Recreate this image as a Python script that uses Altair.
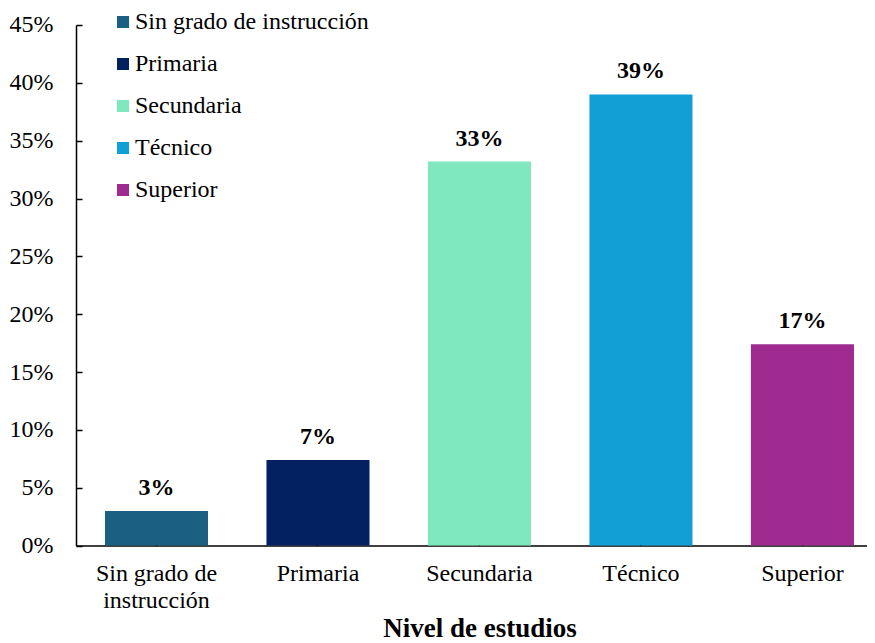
import altair as alt
import pandas as pd

categorias = ["Sin grado de instrucción", "Primaria", "Secundaria", "Técnico", "Superior"]
porcentajes = [0.030, 0.074, 0.332, 0.390, 0.174]
colores = ["#1B5F83", "#032160", "#80E8BE", "#129FD6", "#9F2B91"]
y_ticks = [0, 0.05, 0.10, 0.15, 0.20, 0.25, 0.30, 0.35, 0.40, 0.45]

df = pd.DataFrame({"nivel": categorias, "pct": porcentajes})

W = 791
H = 520.6
FONT = "Liberation Serif"
FS = 24

xscale = alt.Scale(domain=categorias, paddingInner=0.362, paddingOuter=0.13, align=0.69)
yscale = alt.Scale(domain=[0, 0.45], nice=False)

base = alt.Chart(df)

bars = base.mark_bar().encode(
    x=alt.X("nivel:N", sort=categorias, scale=xscale,
            axis=alt.Axis(title="Nivel de estudios", labelAngle=0, ticks=False,
                          labelPadding=16, labelFontSize=FS, labelFont=FONT,
                          labelColor="black", labelLineHeight=27,
                          labelExpr="datum.label == 'Sin grado de instrucción' ? ['Sin grado de', 'instrucción'] : datum.label",
                          titleFont=FONT, titleFontSize=27, titleFontWeight="bold",
                          titleColor="black", titleX=403.5, titleY=91,
                          titleBaseline="alphabetic", titleAnchor="middle", titleAlign="center",
                          domainColor="black", domainWidth=1.5, grid=False)),
    y=alt.Y("pct:Q", scale=yscale,
            axis=alt.Axis(title=None, values=y_ticks, format=".0%", ticks=False,
                          labelPadding=23, labelFontSize=FS, labelFont=FONT,
                          labelColor="black", domainColor="black", domainWidth=1.5,
                          grid=False)),
    color=alt.Color("nivel:N", sort=categorias,
                    scale=alt.Scale(domain=categorias, range=colores),
                    legend=alt.Legend(title=None, orient="none", legendX=35, legendY=-15,
                                      symbolType="square", symbolSize=144,
                                      symbolStrokeWidth=0, labelFont=FONT,
                                      labelFontSize=FS, labelColor="black",
                                      labelOffset=0, rowPadding=18, labelLimit=400)),
)

labels = base.mark_text(font=FONT, fontSize=FS, fontWeight="bold", color="black",
                        baseline="alphabetic", dy=-16).encode(
    x=alt.X("nivel:N", sort=categorias, scale=xscale,
            axis=alt.Axis(orient="top", offset=-H, labels=False, title=None,
                          domain=False, ticks=True, tickSize=6, tickColor="black",
                          tickWidth=1.5, grid=False)),
    y=alt.Y("pct:Q", scale=yscale,
            axis=alt.Axis(orient="right", offset=-W, labels=False, title=None,
                          values=y_ticks, domain=False, ticks=True, tickSize=6,
                          tickColor="black", tickWidth=1.5, grid=False)),
    text=alt.Text("pct:Q", format=".0%"),
)

chart = alt.layer(bars, labels).resolve_axis(x="independent", y="independent").properties(
    width=W, height=H,
    autosize=alt.AutoSizeParams(type="none"),
    padding={"left": 68, "top": 17, "right": 0, "bottom": 97},
    background="white",
).configure(font=FONT).configure_view(stroke=None).configure_legend(
    labelFont=FONT, labelFontSize=FS, labelColor="black"
).configure_axis(labelFont=FONT, titleFont=FONT)

chart.save("out.html", embed_options={"renderer": "svg", "actions": False})
